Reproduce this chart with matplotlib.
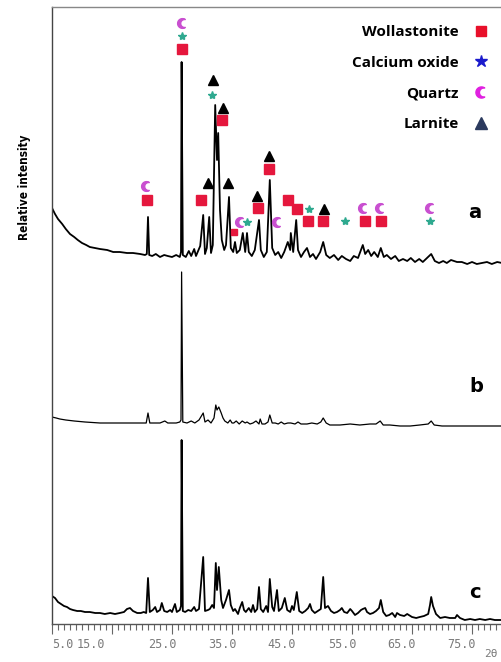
import numpy as np
import matplotlib
matplotlib.use("Agg")
import matplotlib.pyplot as plt
import matplotlib.transforms as mtransforms
from matplotlib.lines import Line2D
from matplotlib.path import Path

# ============================================================
# Data (2-theta in degrees, stacked relative intensity)
# ============================================================

theta_a = [5.0, 5.5, 6.0, 6.7, 7.3, 8.0, 8.7, 9.3, 10.0, 10.7, 11.3, 12.2, 13.0, 14.2, 15.2,
           16.3, 17.5, 18.5, 19.7, 20.5, 20.8, 21.0, 21.2, 21.7, 22.3, 23.0, 23.7, 24.3, 25.0,
           25.7, 26.3, 26.5, 26.6, 26.8, 27.3, 27.8, 28.2, 28.7, 29.0, 29.7, 30.2, 30.5, 30.8,
           31.2, 31.5, 31.8, 32.2, 32.5, 32.7, 33.0, 33.3, 33.7, 34.0, 34.5, 34.8, 35.2, 35.5,
           35.8, 36.3, 36.8, 37.2, 37.5, 37.8, 38.3, 38.8, 39.5, 39.8, 40.3, 40.8, 41.3, 41.7,
           42.2, 42.7, 43.2, 43.7, 44.3, 44.7, 44.8, 45.2, 45.7, 46.0, 46.5, 47.0, 47.5, 48.0,
           48.5, 49.0, 49.7, 50.2, 50.7, 51.3, 52.0, 52.7, 53.3, 54.0, 54.7, 55.3, 56.0, 56.5,
           56.8, 57.2, 57.7, 58.2, 58.7, 59.3, 59.8, 60.3, 60.8, 61.5, 62.2, 62.8, 63.5, 64.2,
           64.8, 65.5, 66.2, 66.8, 67.5, 68.2, 68.8, 69.5, 70.2, 70.8, 71.5, 72.5, 73.3, 74.2,
           75.0, 75.8, 76.7, 77.5, 78.3, 79.2, 80.0]
int_a = [415, 409, 404, 399, 394, 389, 386, 383, 380, 378, 376, 375, 374, 373, 371,
         371, 370, 370, 369, 368, 369, 406, 368, 367, 369, 366, 368, 367, 366,
         368, 366, 371, 561, 368, 366, 372, 367, 374, 367, 377, 408, 369, 375,
         406, 370, 378, 518, 463, 490, 413, 383, 373, 378, 426, 375, 371, 381,
         370, 373, 390, 371, 390, 371, 367, 373, 403, 373, 366, 371, 443, 375,
         368, 371, 365, 371, 381, 373, 390, 371, 403, 373, 366, 371, 375, 366,
         369, 364, 371, 381, 368, 365, 368, 363, 367, 364, 362, 367, 365, 373,
         378, 369, 373, 367, 371, 366, 375, 366, 368, 364, 367, 362, 364, 362,
         365, 361, 364, 361, 365, 369, 362, 360, 362, 360, 363, 361, 361, 359,
         361, 359, 360, 361, 359, 361, 360]

theta_b = [5.0, 5.7, 6.3, 7.3, 8.7, 10.5, 13.0, 16.3, 19.7, 20.7, 21.0, 21.3, 23.0, 23.8,
           24.3, 25.7, 26.3, 26.5, 26.6, 26.8, 27.5, 28.2, 28.8, 29.5, 30.2, 30.5, 31.0,
           31.5, 32.0, 32.3, 32.5, 32.8, 33.2, 33.5, 33.8, 34.3, 34.7, 35.0, 35.3, 35.7,
           36.2, 36.7, 37.2, 37.5, 38.0, 38.5, 39.0, 39.5, 39.7, 40.0, 40.5, 41.0, 41.3,
           41.7, 42.2, 42.7, 43.2, 43.7, 44.3, 44.8, 45.5, 46.0, 46.5, 47.5, 48.3, 49.2,
           49.8, 50.2, 50.7, 51.3, 53.0, 54.7, 56.3, 58.0, 59.0, 59.7, 60.2, 61.3, 63.0,
           64.7, 66.3, 67.7, 68.2, 68.7, 70.0, 71.7, 73.3, 75.0, 76.7, 78.3, 80.0]
int_b = [206, 205, 204, 203, 202, 201, 200, 200, 200, 200, 210, 200, 200, 202,
         200, 200, 201, 203, 351, 201, 200, 202, 200, 203, 210, 201, 203,
         200, 205, 218, 213, 216, 210, 205, 202, 200, 203, 200, 200, 202,
         199, 202, 200, 201, 199, 200, 202, 199, 204, 199, 199, 201, 208,
         200, 200, 199, 201, 199, 200, 200, 199, 201, 199, 199, 200, 199,
         201, 205, 200, 198, 198, 199, 198, 199, 199, 202, 198, 198, 197,
         197, 198, 199, 202, 198, 197, 197, 197, 197, 197, 197, 197]

theta_c = [5.0, 5.5, 6.0, 6.5, 7.0, 7.5, 8.0, 8.5, 9.2, 9.8, 10.5, 11.3, 12.2, 13.0, 13.8,
           14.7, 15.5, 16.3, 17.0, 17.5, 18.0, 18.5, 19.2, 19.8, 20.3, 20.7, 21.0, 21.3,
           21.8, 22.2, 22.5, 23.0, 23.3, 23.7, 24.2, 24.7, 25.0, 25.5, 25.8, 26.3, 26.5,
           26.6, 26.8, 27.2, 27.7, 28.2, 28.7, 29.0, 29.5, 30.2, 30.5, 31.0, 31.3, 31.7,
           32.0, 32.3, 32.5, 32.8, 33.2, 33.5, 34.0, 34.5, 34.8, 35.2, 35.5, 36.0, 36.3,
           36.7, 37.0, 37.3, 37.8, 38.2, 38.5, 38.8, 39.2, 39.5, 39.8, 40.2, 40.7, 41.0,
           41.3, 41.7, 42.0, 42.5, 42.8, 43.3, 43.8, 44.2, 44.7, 45.0, 45.3, 45.8, 46.2,
           46.7, 47.2, 47.7, 48.0, 48.3, 48.8, 49.3, 49.8, 50.2, 50.5, 51.0, 51.5, 52.0,
           52.5, 53.0, 53.3, 53.7, 54.2, 54.7, 55.0, 55.5, 56.0, 56.5, 56.8, 57.2, 57.5,
           58.0, 58.5, 59.0, 59.5, 59.8, 60.2, 60.7, 61.2, 61.7, 62.2, 62.5, 63.0, 63.7,
           64.2, 65.0, 65.7, 66.3, 67.0, 67.7, 68.0, 68.2, 68.5, 69.0, 69.7, 70.5, 71.3,
           72.2, 72.5, 73.0, 73.8, 74.7, 75.5, 76.3, 77.2, 78.0, 78.8, 80.0]
int_c = [27, 25, 21, 19, 17, 16, 14, 13, 12, 12, 11, 11, 10, 10, 9,
         10, 9, 10, 11, 14, 15, 12, 10, 10, 11, 10, 45, 11,
         13, 16, 11, 13, 20, 12, 11, 13, 11, 19, 11, 13, 17,
         183, 12, 11, 13, 12, 16, 12, 14, 66, 12, 13, 14, 18,
         15, 60, 33, 56, 23, 15, 23, 33, 18, 12, 14, 9, 15,
         21, 13, 11, 15, 11, 18, 11, 14, 36, 14, 11, 17, 11,
         44, 16, 12, 33, 12, 15, 25, 13, 11, 17, 13, 31, 12,
         10, 12, 15, 19, 13, 10, 12, 14, 46, 15, 17, 12, 10,
         11, 13, 15, 11, 10, 14, 12, 8, 10, 13, 14, 15, 11,
         9, 10, 12, 15, 23, 11, 7, 8, 10, 6, 10, 8, 7,
         9, 6, 5, 6, 7, 9, 18, 26, 17, 9, 5, 6, 5,
         5, 8, 5, 3, 4, 3, 4, 3, 4, 3, 3]

# phase markers above pattern a: (2-theta, height)
wollastonite_theta = [20.8, 26.7, 29.8, 33.3, 39.3, 41.2, 44.3, 45.8, 47.7, 50.2, 57.2, 59.8]
wollastonite_y = [423, 574, 423, 503, 415, 454, 423, 414, 402, 402, 402, 402]
wollastonite_small_theta = [35.3]
wollastonite_small_y = [391]
calcium_oxide_theta = [26.7, 31.7, 37.5, 47.8, 53.8, 68.0]
calcium_oxide_y = [587, 528, 401, 414, 402, 402]
quartz_theta = [20.7, 26.7, 36.3, 42.5, 56.8, 59.7, 68.0]
quartz_y = [437, 600, 401, 401, 415, 415, 415]
larnite_theta = [31.8, 33.5, 31.0, 34.3, 39.2, 41.2, 50.3]
larnite_y = [543, 515, 440, 440, 427, 467, 414]

phase_names = ["Wollastonite", "Calcium oxide", "Quartz", "Larnite"]
pattern_labels = ["a", "b", "c"]
pattern_label_theta = [74.3, 74.5, 74.6]
pattern_label_y = [411, 236, 31]

xtick_values = [5, 15, 25, 35, 45, 55, 65, 75]
xtick_labels = ["5.0", "15.0", "25.0", "35.0", "45.0", "55.0", "65.0", "75.0"]


# ============================================================
# Helpers
# ============================================================


def crescent_marker():
    # crescent opening to the right
    t_out = np.radians(np.linspace(55, 305, 40))
    outer = np.column_stack([np.cos(t_out), np.sin(t_out)])
    c, r = 0.45, 0.82
    a0 = np.degrees(np.arctan2(-np.sin(np.radians(55)), np.cos(np.radians(55)) - c)) % 360
    a1 = 360 - a0
    t_in = np.radians(np.linspace(a0, a1, 40))
    inner = np.column_stack([c + r * np.cos(t_in), r * np.sin(t_in)])
    verts = np.vstack([outer, inner, outer[:1]])
    codes = [Path.MOVETO] + [Path.LINETO] * (len(verts) - 2) + [Path.CLOSEPOLY]
    return Path(verts, codes)


# ============================================================
# Figure
# ============================================================

fig = plt.figure(figsize=(5.01, 6.62), dpi=100)
ax = fig.add_axes([52 / 501, 38 / 662, 450 / 501, 617 / 662])

ax.plot(theta_a, int_a, color="black", lw=1.3)
ax.plot(theta_b, int_b, color="black", lw=0.9)
ax.plot(theta_c, int_c, color="black", lw=1.3)

moon = crescent_marker()
sq_col = "#e5173d"
ax.plot(wollastonite_theta, wollastonite_y, "s", color=sq_col, ms=7, zorder=5)
ax.plot(wollastonite_small_theta, wollastonite_small_y, "s", color=sq_col, ms=4.5, zorder=5)
ax.plot(calcium_oxide_theta, calcium_oxide_y, "*", color="#2ea98f", ms=6, zorder=5)
ax.plot(quartz_theta, quartz_y, ls="None", marker=moon, color="#c94fd0", ms=7, zorder=5)
ax.plot(larnite_theta, larnite_y, "^", color="black", ms=6.5, zorder=5)

for lab, tx, ty in zip(pattern_labels, pattern_label_theta, pattern_label_y):
    ax.text(tx, ty, lab, fontsize=14, fontweight="bold", family="DejaVu Sans",
            ha="left", va="center")

ax.set_xlim(5, 80)
ax.set_ylim(-1, 616)
ax.set_yticks([])
ax.set_xticks(xtick_values)
ax.set_xticks(np.arange(5, 81, 1), minor=True)
ax.tick_params(axis="x", which="major", length=7, width=0.8, color="#666666",
               direction="out", labelbottom=False)
ax.tick_params(axis="x", which="minor", length=4, width=0.8, color="#666666",
               direction="out")

ax.spines["right"].set_visible(False)
ax.spines["top"].set_color("#888888")
ax.spines["left"].set_color("#444444")
ax.spines["bottom"].set_color("#555555")
for s in ax.spines.values():
    s.set_linewidth(1.0)

# tick labels, drawn by hand: the scan has them shifted left of their ticks
base = mtransforms.blended_transform_factory(ax.transData, ax.transAxes)
for i, (v, lab) in enumerate(zip(xtick_values, xtick_labels)):
    if i == 0:
        dx, ha = 0, "left"
    elif i == 1:
        dx, ha = -21, "center"
    else:
        dx, ha = -10, "center"
    tr = base + mtransforms.ScaledTranslation(dx / 100, -21 / 100, fig.dpi_scale_trans)
    ax.text(v, 0, lab, transform=tr, ha=ha, va="center", fontsize=8.5,
            family="DejaVu Sans Mono", color="#7a7a7a")

fig.text(491 / 501, 1 - 654 / 662, "2θ", fontsize=8, family="DejaVu Sans Mono",
         color="#7a7a7a", ha="center", va="center")

fig.text(25 / 501, 1 - 187 / 662, "Relative intensity", rotation=90,
         fontsize=8.5, fontweight="bold", fontstretch="condensed", family="DejaVu Sans",
         ha="center", va="center")

handles = [
    Line2D([], [], ls="None", marker="s", color="#e8102a", ms=7),
    Line2D([], [], ls="None", marker="*", color="#1a1acc", ms=9),
    Line2D([], [], ls="None", marker=moon, color="#e020e0", ms=8),
    Line2D([], [], ls="None", marker="^", color="#2b3a5e", ms=8),
]
leg = ax.legend(handles, phase_names, loc="upper right", markerfirst=False,
                frameon=False, bbox_to_anchor=(489 / 501, 1 - 25 / 662),
                bbox_transform=fig.transFigure, borderaxespad=0, borderpad=0,
                labelspacing=1.1, handlelength=1.0, handletextpad=1.0,
                prop={"family": "Open Sans", "weight": "bold", "size": 11})

fig.savefig("out.png", dpi=100)
